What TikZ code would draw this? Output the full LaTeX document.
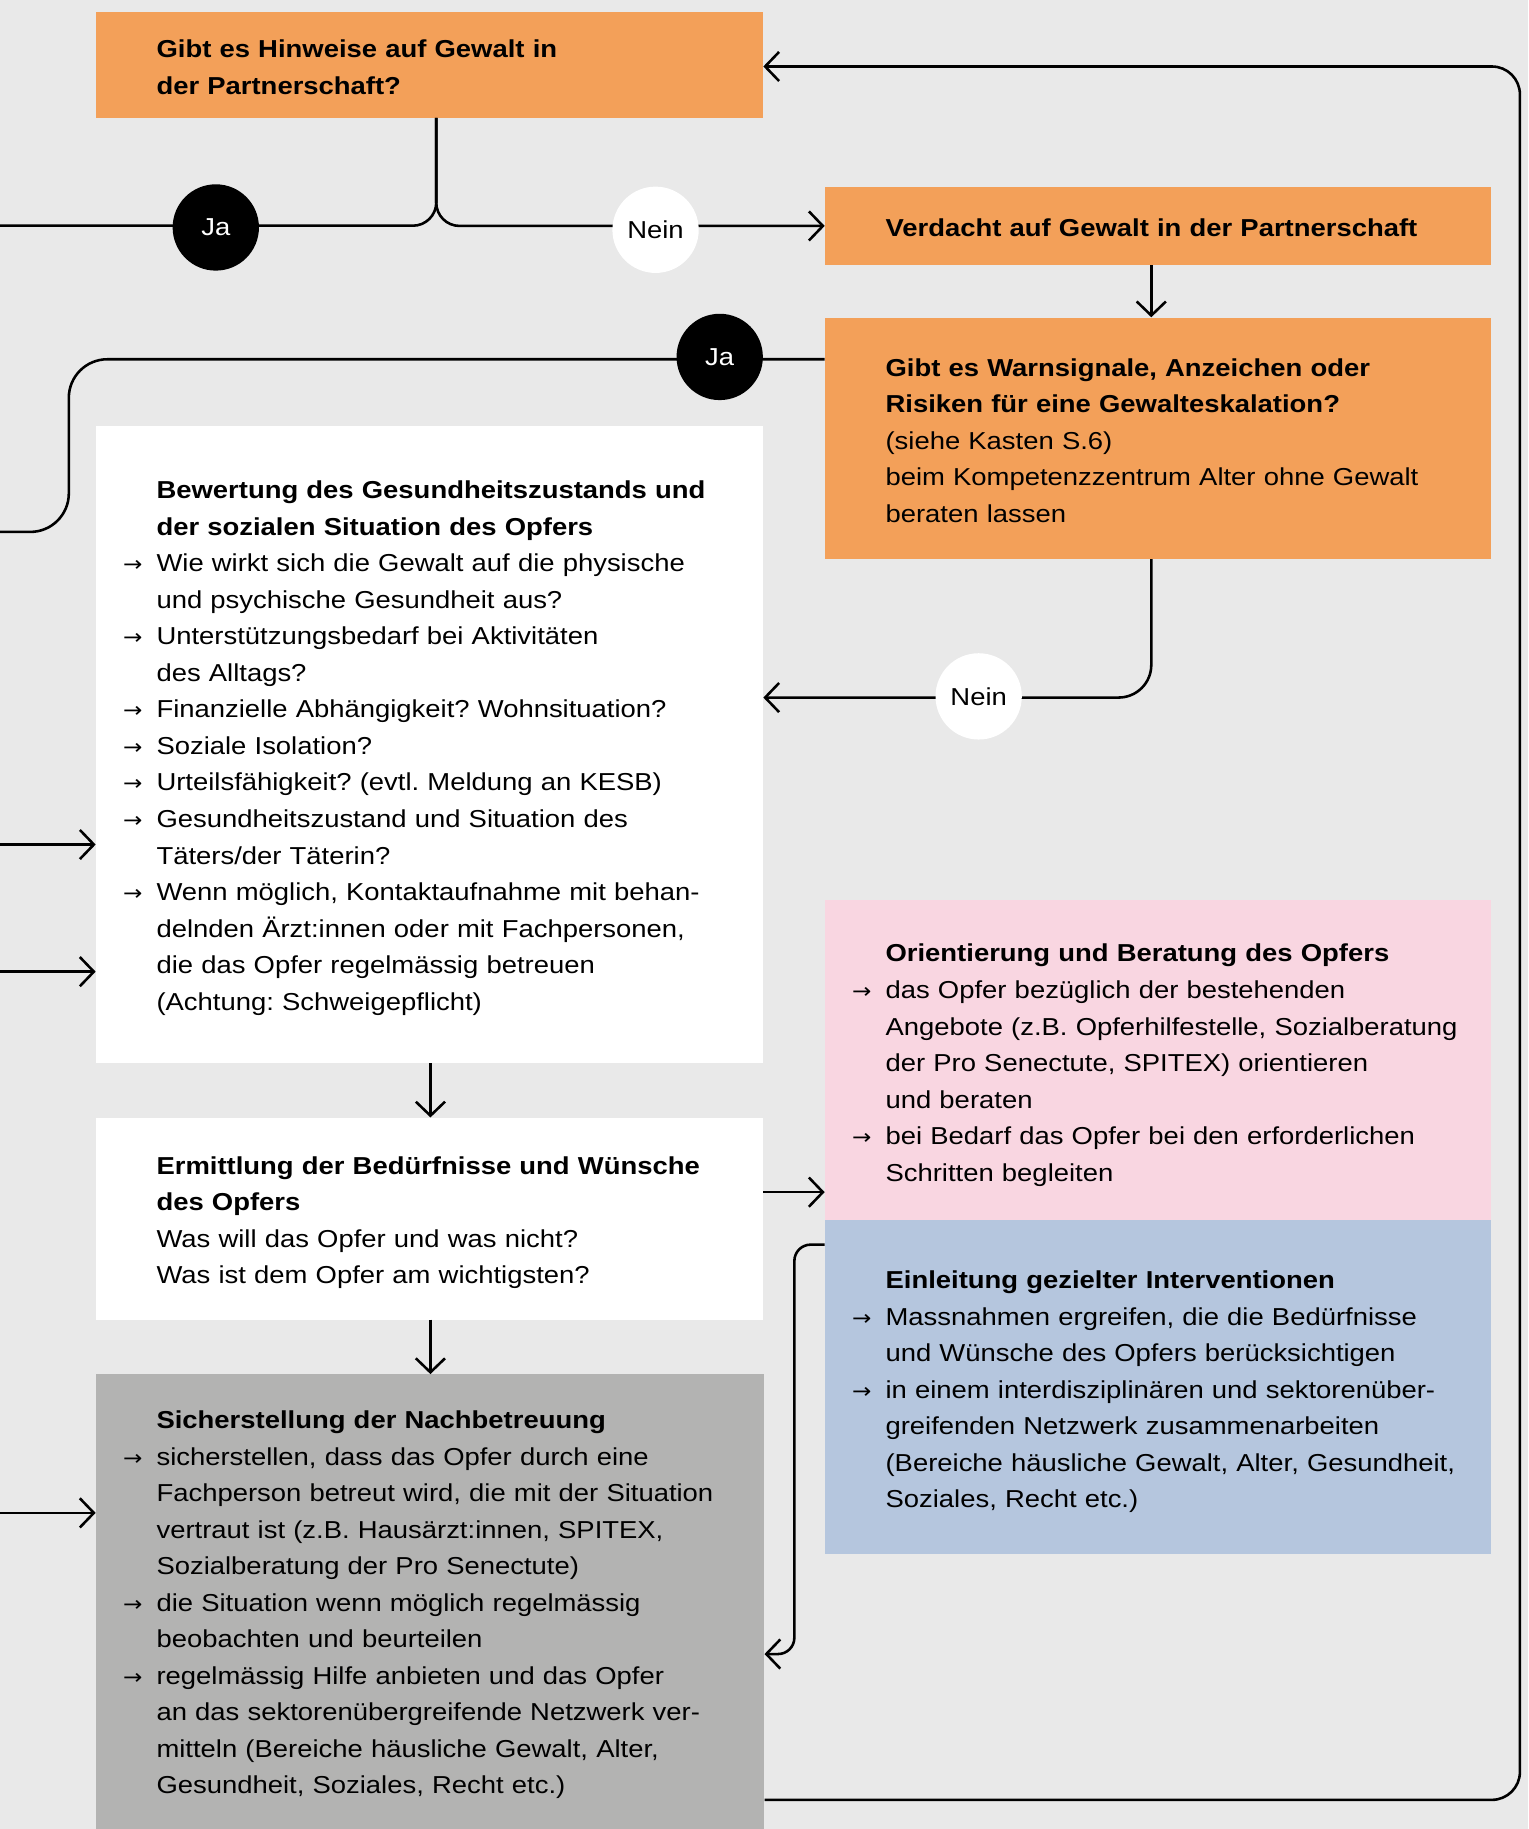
\documentclass[tikz,border=0pt]{standalone}
\usepackage{fontspec}
\setmainfont[FakeStretch=1.12]{Liberation Sans}
\newfontfamily\arrowfont[FakeStretch=1.1]{DejaVu Sans}
\usetikzlibrary{arrows.meta}
\definecolor{bg}{RGB}{233,233,233}
\definecolor{orng}{RGB}{243,160,89}
\definecolor{pnk}{RGB}{249,214,225}
\definecolor{blu}{RGB}{181,198,222}
\definecolor{gry}{RGB}{179,179,178}
\newcommand\bul{\makebox[0pt][r]{{\arrowfont\fontsize{18}{18}\selectfont →}\hspace{12pt}}}
\frenchspacing
\begin{document}
\begin{tikzpicture}[x=1pt,y=-1pt,
  box/.style={draw=none,inner sep=0pt,anchor=north west},
  txt/.style={inner sep=0pt,anchor=north west,text width=560pt,align=left,font=\fontsize{21}{31.3}\selectfont},
  link/.style={line width=2.2pt},
  arr/.style={link,-{Straight Barb[length=12pt,width=25pt]}},
  dot/.style={circle,inner sep=0pt,minimum size=74pt,font=\fontsize{21}{25}\selectfont}]
\useasboundingbox (0,0) rectangle (1310,1568);
\fill[bg] (0,0) rectangle (1310,1568);

% boxes
\node[box,fill=orng,minimum width=572,minimum height=91] (q1) at (82,10) {};
\node[box,fill=orng,minimum width=571,minimum height=67] (verd) at (707,160) {};
\node[box,fill=orng,minimum width=571,minimum height=207] (warn) at (707,272) {};
\node[box,fill=white,minimum width=572,minimum height=546] (w1) at (82,365) {};
\node[box,fill=white,minimum width=572,minimum height=173] (w2) at (82,958) {};
\node[box,fill=gry,minimum width=573,minimum height=390] (gray) at (82,1178) {};
\node[box,fill=pnk,minimum width=571,minimum height=275] (pink) at (707,771) {};
\node[box,fill=blu,minimum width=571,minimum height=286] (blue) at (707,1046) {};

% texts
\node[txt] (q1t) at (134,27.6) {\strut\bfseries Gibt es Hinweise auf Gewalt in\\der Partnerschaft?};
\node[txt] (verdt) at (759,180.6) {\strut\bfseries Verdacht auf Gewalt in der Partnerschaft};
\node[txt] (warnt) at (759,300.6) {\strut{\bfseries Gibt es Warnsignale, Anzeichen oder\\Risiken für eine Gewalteskalation?}\\(siehe Kasten S.6)\\beim Kompetenzzentrum Alter ohne Gewalt\\beraten lassen};
\node[txt] (w1t) at (134,405.6) {\strut{\bfseries Bewertung des Gesundheitszustands und\\der sozialen Situation des Opfers}\\
\bul Wie wirkt sich die Gewalt auf die physische\\und psychische Gesundheit aus?\\
\bul Unterstützungsbedarf bei Aktivitäten\\des Alltags?\\
\bul Finanzielle Abhängigkeit? Wohnsituation?\\
\bul Soziale Isolation?\\
\bul Urteilsfähigkeit? (evtl. Meldung an KESB)\\
\bul Gesundheitszustand und Situation des\\Täters/der Täterin?\\
\bul Wenn möglich, Kontaktaufnahme mit behan-\\delnden Ärzt:innen oder mit Fachpersonen,\\die das Opfer regelmässig betreuen\\(Achtung: Schweigepflicht)};
\node[txt] (w2t) at (134,984.6) {\strut{\bfseries Ermittlung der Bedürfnisse und Wünsche\\des Opfers}\\Was will das Opfer und was nicht?\\Was ist dem Opfer am wichtigsten?};
\node[txt] (grayt) at (134,1202.6) {\strut{\bfseries Sicherstellung der Nachbetreuung}\\
\bul sicherstellen, dass das Opfer durch eine\\Fachperson betreut wird, die mit der Situation\\vertraut ist (z.B. Hausärzt:innen, SPITEX,\\Sozialberatung der Pro Senectute)\\
\bul die Situation wenn möglich regelmässig\\beobachten und beurteilen\\
\bul regelmässig Hilfe anbieten und das Opfer\\an das sektorenübergreifende Netzwerk ver-\\mitteln (Bereiche häusliche Gewalt, Alter,\\Gesundheit, Soziales, Recht etc.)};
\node[txt] (pinkt) at (759,802.6) {\strut{\bfseries Orientierung und Beratung des Opfers}\\
\bul das Opfer bezüglich der bestehenden\\Angebote (z.B. Opferhilfestelle, Sozialberatung\\der Pro Senectute, SPITEX) orientieren\\und beraten\\
\bul bei Bedarf das Opfer bei den erforderlichen\\Schritten begleiten};
\node[txt] (bluet) at (759,1082.6) {\strut{\bfseries Einleitung gezielter Interventionen}\\
\bul Massnahmen ergreifen, die die Bedürfnisse\\und Wünsche des Opfers berücksichtigen\\
\bul in einem interdisziplinären und sektorenüber-\\greifenden Netzwerk zusammenarbeiten\\(Bereiche häusliche Gewalt, Alter, Gesundheit,\\Soziales, Recht etc.)};

% helper coordinates
\coordinate (f0) at (374,101);
\coordinate (Lja) at (0,193.5);
\coordinate (vx) at (987,0);
\coordinate (wJ) at (707,308);
\coordinate (Lw) at (0,456);
\coordinate (y598) at (0,598);
\coordinate (La) at (0,724);
\coordinate (Lb) at (0,833);
\coordinate (Lc) at (0,1297);
\coordinate (mx) at (369,0);
\coordinate (y1022) at (0,1022);
\coordinate (y1067) at (0,1067);
\coordinate (y1418) at (0,1418);
\coordinate (y1543) at (0,1543);
\coordinate (y57) at (0,57);

% connectors
\draw[link,rounded corners=20] (f0) |- (Lja);
\draw[arr,rounded corners=20] (f0) |- (verd.west);
\draw[arr] (verd.south -| vx) -- (warn.north -| vx);
\draw[link,rounded corners=33] (wJ) -- (59,308) -- (59,456) -- (Lw);
\draw[arr,rounded corners=28] (warn.south -| vx) |- (w1.east |- y598);
\draw[arr] (La) -- (w1.west |- La);
\draw[arr] (Lb) -- (w1.west |- Lb);
\draw[arr] (Lc) -- (gray.west |- Lc);
\draw[arr] (w1.south -| mx) -- (w2.north -| mx);
\draw[arr] (w2.south -| mx) -- (gray.north -| mx);
\draw[arr] (w2.east |- y1022) -- (pink.west |- y1022);
\draw[arr,rounded corners=14] (blue.west |- y1067) -- (681,1067) -- (681,1418) -- (gray.east |- y1418);
\draw[arr,rounded corners=24] (gray.east |- y1543) -- (1303,1543) -- (1303,57) -- (q1.east |- y57);

% decision dots
\node[dot,fill=black,text=white] (ja1) at (185,195) {Ja};
\node[dot,fill=white,text=black] (nein1) at (562,197) {Nein};
\node[dot,fill=black,text=white] (ja2) at (617,306) {Ja};
\node[dot,fill=white,text=black] (nein2) at (839,597) {Nein};
\end{tikzpicture}
\end{document}
